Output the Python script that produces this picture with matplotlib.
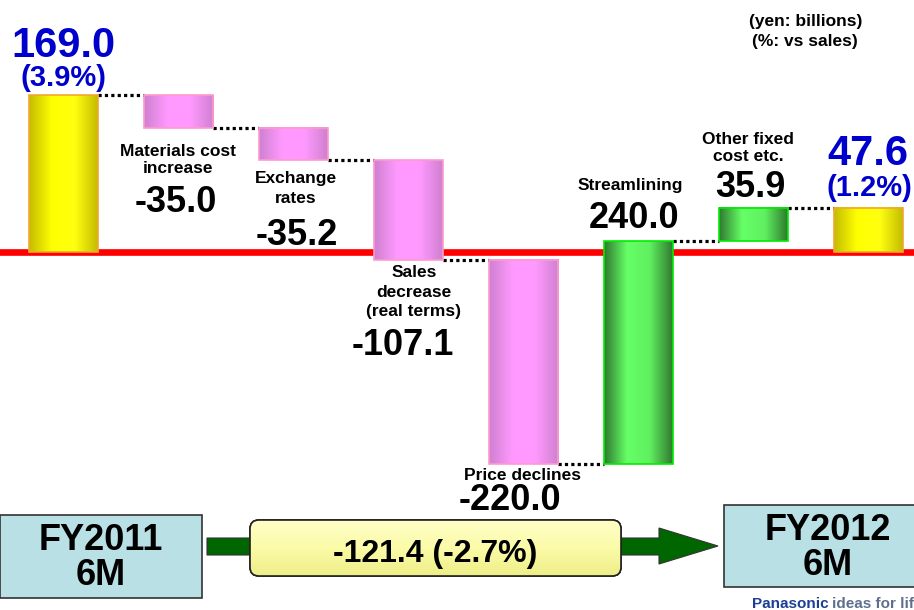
import numpy as np
import matplotlib.pyplot as plt
from matplotlib.patches import Rectangle, FancyBboxPatch, Polygon
from matplotlib.colors import LinearSegmentedColormap

plt.rcParams['font.family'] = ['Liberation Sans', 'DejaVu Sans']
plt.rcParams['font.weight'] = 'bold'

# data (yen: billions)
steps = ['FY2011 6M', 'Materials cost increase', 'Exchange rates',
         'Sales decrease (real terms)', 'Price declines', 'Streamlining',
         'Other fixed cost etc.', 'FY2012 6M']
values = [169.0, -35.0, -35.2, -107.1, -220.0, 240.0, 35.9, 47.6]
is_total = [True, False, False, False, False, False, False, True]
start_pct = '(3.9%)'
end_pct = '(1.2%)'
change_text = '-121.4 (-2.7%)'

# running totals -> bar bottoms / tops
bottoms, tops = [], []
run = 0.0
for v, tot in zip(values, is_total):
    if tot:
        bottoms.append(0.0)
        tops.append(v)
        run = v
    else:
        bottoms.append(run)
        run = run + v
        tops.append(run)

W, H = 914, 610
fig = plt.figure(figsize=(W / 100, H / 100), dpi=100)
fig.patch.set_facecolor('white')

# waterfall axes (whole figure), scale ~0.93 px per billion
k = 157 / 169
ax = fig.add_axes([0, 0, 1, 1])
ax.axis('off')

yel = LinearSegmentedColormap.from_list('y', ['#c4bc00', '#ffff00', '#ffff10', '#c4bc00'])
pink = LinearSegmentedColormap.from_list('p', ['#cf80d0', '#ff99ff', '#ff99ff', '#cf80d0'])
green = LinearSegmentedColormap.from_list('g', ['#2f7a30', '#66ff66', '#60f060', '#2f7a30'])

bw = 0.6
g = np.linspace(0, 1, 128).reshape(1, -1)
for i, v in enumerate(values):
    if is_total[i]:
        cm, ec = yel, '#f0a830'
    elif v < 0:
        cm, ec = pink, '#ff99cc'
    else:
        cm, ec = green, '#00ee00'
    lo, hi = min(bottoms[i], tops[i]), max(bottoms[i], tops[i])
    ax.imshow(g, cmap=cm, extent=(i - bw / 2, i + bw / 2, lo, hi),
              aspect='auto', interpolation='bicubic', zorder=3)
    ax.add_patch(Rectangle((i - bw / 2, lo), bw, hi - lo, fill=False,
                           ec=ec, lw=1.2, zorder=4))
    # dotted connector to next bar
    if i < len(values) - 1:
        ax.plot([i + bw / 2, i + 1 - bw / 2], [tops[i], tops[i]], color='black',
                lw=2.3, ls=(0, (1, 1)), zorder=2)

ax.axhline(0, color='#ff0000', lw=4.8, zorder=2)
ax.set_xlim(-63.5 / 115, (W - 63.5) / 115)
ax.set_ylim(-(H - 252) / k, 252 / k)

# overlay axes in pixel coordinates for labels and bottom diagram
ov = fig.add_axes([0, 0, 1, 1])
ov.axis('off')
ov.patch.set_alpha(0)

blue = '#0000cc'
def t(x, y, s, size, color='black', **kw):
    ov.text(x, y, s, fontsize=size, color=color, ha='center', va='baseline',
            fontweight='bold', **kw)

t(63, 57, '%.1f' % values[0], 30, blue)
t(63, 86, start_pct, 21, blue)
t(868, 165, '%.1f' % values[-1], 30, blue)
t(869, 196, end_pct, 21, blue)

t(806, 26, '(yen: billions)', 12.5)
t(805, 46, '(%: vs sales)', 12.5)

t(178, 156, 'Materials cost', 12.5)
t(178, 173, 'increase', 12.5)
t(176, 212, '%.1f' % values[1], 26)

t(296, 183, 'Exchange', 12.5)
t(296, 203, 'rates', 12.5)
t(297, 245, '%.1f' % values[2], 26)

t(414, 277, 'Sales', 12.5)
t(414, 297, 'decrease', 12.5)
t(414, 316, '(real terms)', 12.5)
t(403, 355, '%.1f' % values[3], 26)

t(523, 480, 'Price declines', 12.5)
t(510, 510, '%.1f' % values[4], 26)

t(630, 190, 'Streamlining', 12.5)
t(634, 228, '%.1f' % values[5], 26)

t(748, 144, 'Other fixed', 12.5)
t(748, 161, 'cost etc.', 12.5)
t(750, 197, '%.1f' % values[6], 26)

# bottom: FY boxes, arrow and change box
ov.add_patch(Rectangle((0, 515), 202, 83, fc='#b9e0e4', ec='#333333', lw=1.2))
t(101, 550, 'FY2011', 26)
t(101, 585, '6M', 26)

ov.add_patch(Rectangle((724, 505), 210, 82, fc='#b9e0e4', ec='#333333', lw=1.2))
t(828, 540, 'FY2012', 26)
t(828, 575, '6M', 26)

arrow = Polygon([(207, 538), (659, 538), (659, 528), (718, 546), (659, 564),
                 (659, 555), (207, 555)], closed=True, fc='#006600', ec='#333333', lw=0.8)
ov.add_patch(arrow)

box = FancyBboxPatch((250, 520), 371, 56, boxstyle='round,pad=0,rounding_size=9',
                     fc='#fbfba8', ec='#222222', lw=1.2)
ov.add_patch(box)
gy = np.linspace(0, 1, 64).reshape(-1, 1)
ycm = LinearSegmentedColormap.from_list('yb', ['#ffffc8', '#fbfba8', '#eeee88'])
im = ov.imshow(gy, cmap=ycm, extent=(250, 621, 576, 520), aspect='auto', zorder=1.5)
im.set_clip_path(box)
ov.add_patch(FancyBboxPatch((250, 520), 371, 56, boxstyle='round,pad=0,rounding_size=9',
                            fill=False, ec='#222222', lw=1.2, zorder=2))
t(435, 562, change_text, 23)
ov.set_xlim(0, W)
ov.set_ylim(H, 0)

# logo (cut off at the right edge, as in the original slide)
ov.text(752, 608, 'Panasonic', fontsize=11, color='#1c3f94', fontweight='bold',
        ha='left', va='baseline')
ov.text(832, 608, 'ideas for life', fontsize=11, color='#5f6f8f', fontweight='bold',
        ha='left', va='baseline')

fig.savefig('out.png', dpi=100)
